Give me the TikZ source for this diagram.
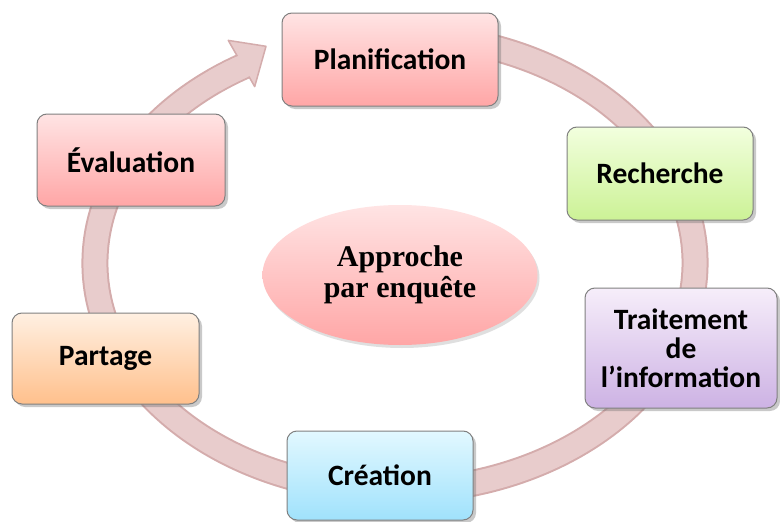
\documentclass[tikz,border=0pt]{standalone}
\usepackage{fontspec}
\setmainfont{Carlito}
\newfontfamily\centerfont{Liberation Serif}
\usetikzlibrary{shadows,shapes.geometric}
\definecolor{ringE}{RGB}{212,172,172}
\definecolor{ringF}{RGB}{232,204,204}
\definecolor{pinkT}{RGB}{255,228,228}
\definecolor{pinkB}{RGB}{255,166,166}
\definecolor{greenT}{RGB}{242,255,222}
\definecolor{greenB}{RGB}{204,242,150}
\definecolor{lilacT}{RGB}{246,238,250}
\definecolor{lilacB}{RGB}{205,178,228}
\definecolor{peachT}{RGB}{255,240,226}
\definecolor{peachB}{RGB}{255,192,140}
\definecolor{cyanT}{RGB}{226,248,255}
\definecolor{cyanB}{RGB}{160,226,252}
\definecolor{boxline}{RGB}{128,128,128}
\tikzset{
  box/.style={draw=boxline, line width=1pt, rounded corners=10pt, align=center,
    inner sep=0pt, font=\fontsize{29.5}{29}\selectfont\bfseries,
    drop shadow={shadow xshift=3pt, shadow yshift=-3pt, opacity=0.35, fill=black!60}}
}
\begin{document}
\begin{tikzpicture}[x=1pt,y=-1pt]
\useasboundingbox (0,0) rectangle (780,522);
\fill[white] (0,0) rectangle (780,522);
% ring
\coordinate (ringC) at (395,263);
\draw[ringE, line width=27pt] (ringC) ++(-75:300 and 228)
  arc[start angle=-75, end angle=240, x radius=300, y radius=228];
\draw[ringF, line width=23pt] (ringC) ++(-75:300 and 228)
  arc[start angle=-75, end angle=240, x radius=300, y radius=228];
\coordinate (tipA) at (228.3,40.4);
\coordinate (tipB) at (266,46.3);
\coordinate (tipC) at (254.7,86.6);
\filldraw[fill=ringF, draw=ringE, line width=1.5pt, line join=round] (tipA) -- (tipB) -- (tipC) -- cycle;
\draw[ringF, line width=23pt] (ringC) ++(233:300 and 228)
  arc[start angle=233, end angle=240.5, x radius=300, y radius=228];
% centre
\node[ellipse, minimum width=275pt, minimum height=140pt, inner sep=0pt,
  top color=pinkT, bottom color=pinkB, align=center,
  drop shadow={shadow xshift=2pt, shadow yshift=-3pt, opacity=0.25, fill=black!50},
  font=\centerfont\bfseries\fontsize{30}{31}\selectfont] (centre) at (400,275) {Approche\\par enquête};
% boxes
\node[box, top color=pinkT, bottom color=pinkB, minimum width=216pt, minimum height=93pt] (plan) at (390,59.5) {Planification};
\node[box, top color=greenT, bottom color=greenB, minimum width=186pt, minimum height=93pt] (rech) at (660,173.5) {Recherche};
\node[box, top color=lilacT, bottom color=lilacB, minimum width=192pt, minimum height=120pt] (trait) at (681,348) {Traitement\\de\\l’information};
\node[box, top color=cyanT, bottom color=cyanB, minimum width=186pt, minimum height=89pt] (crea) at (380,475.5) {Création};
\node[box, top color=peachT, bottom color=peachB, minimum width=187pt, minimum height=91pt] (part) at (105.5,358.5) {Partage};
\node[box, top color=pinkT, bottom color=pinkB, minimum width=188pt, minimum height=92pt] (eval) at (131,160) {Évaluation};
\end{tikzpicture}
\end{document}
